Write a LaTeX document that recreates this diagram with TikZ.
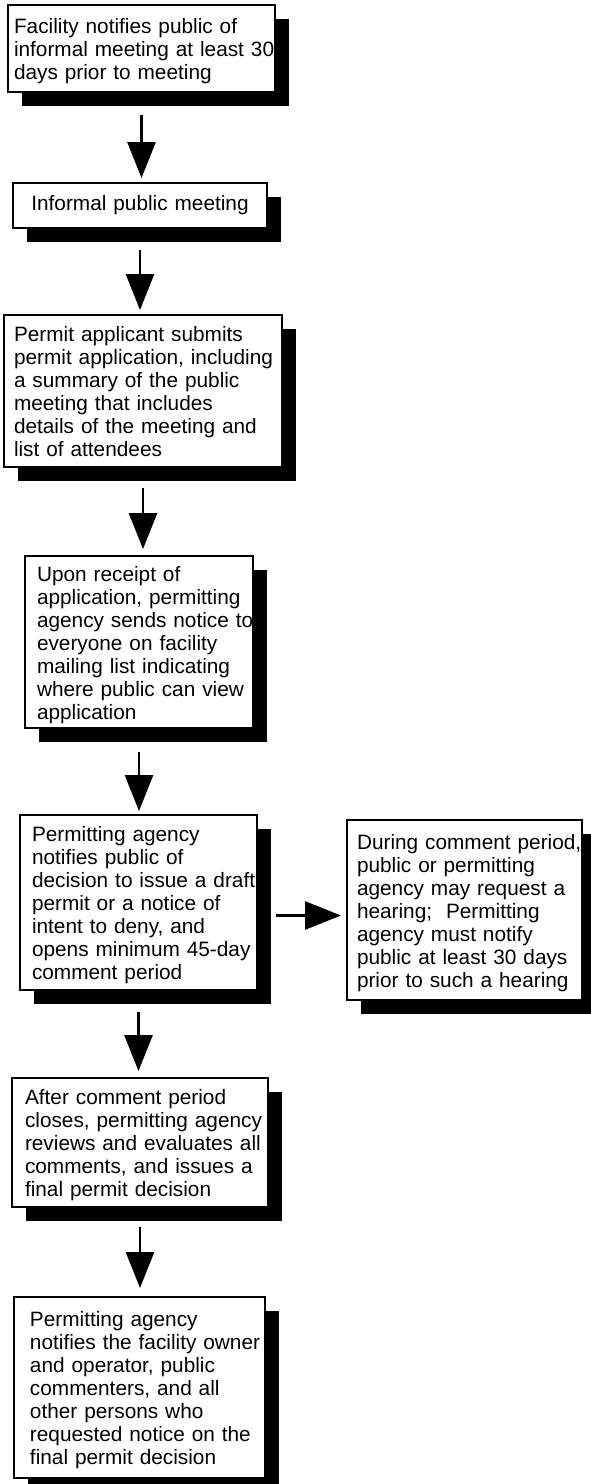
\documentclass[tikz,border=0pt]{standalone}
\usepackage{fontspec}
\setmainfont{Liberation Sans}
\usetikzlibrary{arrows.meta,shadows,calc}
\newcommand{\lns}[1]{\begin{tabular}{@{}l@{}}\rule{0pt}{23pt}#1\end{tabular}}
\tikzset{
  box/.style={draw=black, line width=1.6pt, fill=white, anchor=north west,
    inner ysep=0pt, outer sep=0pt, align=left,
    font=\fontsize{20.8}{23}\selectfont,
    drop shadow={shadow xshift=14pt, shadow yshift=-14pt, fill=black, opacity=1}},
  arr/.style={line width=2.8pt, -{Triangle[width=28pt,length=36pt]}}
}
\begin{document}
\begin{tikzpicture}[x=1pt,y=1pt]
\useasboundingbox (0,0) rectangle (591,-1484);
\node[box, inner xsep=6pt, text width=255pt, minimum height=87pt] (b1) at (8,-5)
  {\lns{Facility notifies public of\\informal meeting at least 30\\days prior to meeting}};
\node[box, inner xsep=12pt, text width=230pt, minimum height=45pt, align=center] (b2) at (13,-183)
  {Informal public meeting};
\node[box, inner xsep=10pt, text width=258pt, minimum height=152pt] (b3) at (4,-315)
  {\lns{Permit applicant submits\\permit application, including\\a summary of the public\\meeting that includes\\details of the meeting and\\list of attendees}};
\node[box, inner xsep=12pt, text width=204pt, minimum height=172pt] (b4) at (25,-556)
  {\lns{Upon receipt of\\application, permitting\\agency sends notice to\\everyone on facility\\mailing list indicating\\where public can view\\application}};
\node[box, inner xsep=12pt, text width=213pt, minimum height=175pt] (b5) at (20,-815)
  {\lns{Permitting agency\\notifies public of\\decision to issue a draft\\permit or a notice of\\intent to deny, and\\opens minimum 45-day\\comment period}};
\node[box, inner xsep=10pt, text width=215pt, minimum height=180pt] (b6) at (347,-820)
  {\lns{During comment period,\\public or permitting\\agency may request a\\hearing;\ \ Permitting\\agency must notify\\public at least 30 days\\prior to such a hearing}};
\node[box, inner xsep=13pt, text width=230pt, minimum height=129pt] (b7) at (12,-1078)
  {\lns{After comment period\\closes, permitting agency\\reviews and evaluates all\\comments, and issues a\\final permit decision}};
\node[box, inner xsep=16pt, text width=219pt, minimum height=181pt] (b8) at (14,-1297)
  {\lns{Permitting agency\\notifies the facility owner\\and operator, public\\commenters, and all\\other persons who\\requested notice on the\\final permit decision}};
\draw[arr] ($(b1.south)+(0,-23)$) -- ($(b1.south |- b2.north)+(0,5)$);
\draw[arr] ($(b2.south)+(0,-22)$) -- ($(b2.south |- b3.north)+(0,5)$);
\draw[arr] ($(b3.south)+(0,-21)$) -- ($(b3.south |- b4.north)+(0,7)$);
\draw[arr] ($(b4.south)+(0,-24)$) -- ($(b4.south |- b5.north)+(0,4)$);
\draw[arr] ($(b5.south)+(0,-22)$) -- ($(b5.south |- b7.north)+(0,7)$);
\draw[arr] ($(b7.south)+(0,-20)$) -- ($(b7.south |- b8.north)+(0,9)$);
\draw[arr] ($(b5.east)+(19,-13)$) -- ($(b5.east -| b6.west)+(-6,-13)$);
\end{tikzpicture}
\end{document}
